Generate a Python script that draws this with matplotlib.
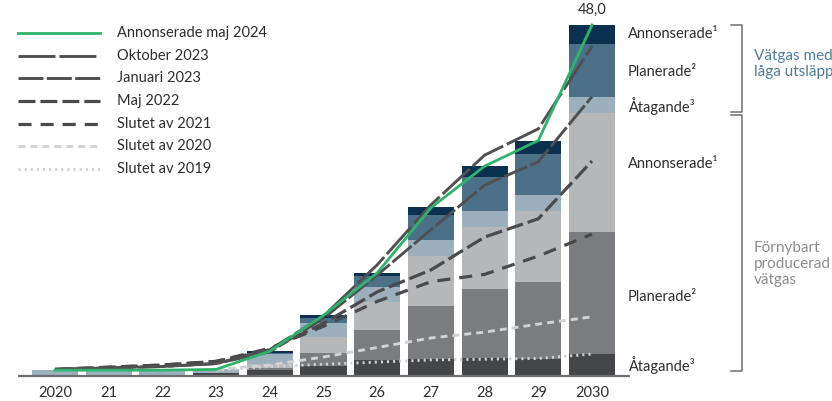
import matplotlib
matplotlib.use('Agg')
from matplotlib import pyplot as plt

plt.rcParams['font.family'] = ['Lato', 'DejaVu Sans']
plt.rcParams['lines.scale_dashes'] = False

years = [2020, 2021, 2022, 2023, 2024, 2025, 2026, 2027, 2028, 2029, 2030]
tick_labels = ['2020', '21', '22', '23', '24', '25', '26', '27', '28', '29', '2030']

# staplar (Mt), nedifrån och upp
fornybar_atagande = [0, 0, 0, 0.4, 0.8, 1.4, 2.2, 2.3, 2.5, 2.3, 3.0]
fornybar_planerade = [0, 0, 0, 0, 0.3, 1.8, 4.1, 7.25, 9.4, 10.5, 16.7]
fornybar_annonserade = [0, 0, 0, 0, 0.6, 2.2, 3.8, 6.8, 8.5, 9.7, 16.3]
lag_atagande = [0.8, 0.8, 0.8, 0.6, 1.3, 1.8, 2.05, 2.2, 2.2, 2.2, 2.2]
lag_planerade = [0, 0, 0, 0, 0.1, 0.8, 1.5, 3.4, 4.6, 5.6, 7.25]
lag_annonserade = [0, 0, 0, 0, 0.3, 0.3, 0.4, 1.1, 1.5, 1.9, 2.55]

# tidigare prognoser
maj2024 = [0.8, 0.8, 0.8, 0.9, 3.4, 8.3, 14.1, 23.0, 28.7, 32.2, 48.0]
okt2023 = [0.9, 1.1, 1.3, 1.7, 3.6, 8.2, 15.2, 23.4, 30.2, 33.8, 45.1]
jan2023 = [0.9, 1.1, 1.3, 1.7, 3.3, 7.9, 13.8, 20.0, 26.1, 29.3, 38.2]
maj2022 = [0.9, 1.2, 1.5, 2.0, 3.6, 7.2, 11.5, 14.5, 19.0, 21.5, 29.4]
slut2021 = [0.9, 1.2, 1.5, 2.0, 3.8, 6.8, 10.2, 12.9, 13.9, 16.4, 19.4]
years_sen = [2023, 2024, 2025, 2026, 2027, 2028, 2029, 2030]
slut2020 = [0.9, 1.5, 2.6, 3.9, 5.2, 6.0, 7.1, 8.1]
slut2019 = [0.8, 1.3, 1.6, 1.9, 2.2, 2.3, 2.4, 3.0]

stack = [
    (fornybar_atagande, '#45464a'),
    (fornybar_planerade, '#7b7c80'),
    (fornybar_annonserade, '#b6b7b9'),
    (lag_atagande, '#9bb0bc'),
    (lag_planerade, '#4b7088'),
    (lag_annonserade, '#0b3150'),
]

dark = '#4a4a4d'
light = '#d2d2d2'
series = [
    ('Annonserade maj 2024', years, maj2024, '#2fb36a', None, 2.0),
    ('Oktober 2023', years, okt2023, '#505053', (0, (26.6, 2.9)), 2.1),
    ('Januari 2023', years, jan2023, '#505053', (0, (18, 2.4)), 2.1),
    ('Maj 2022', years, maj2022, dark, (0, (12.2, 3.6)), 2.3),
    ('Slutet av 2021', years, slut2021, dark, (0, (9.4, 6.5)), 2.3),
    ('Slutet av 2020', years_sen, slut2020, light, (0, (5, 3.6)), 2.1),
    ('Slutet av 2019', years_sen, slut2019, light, (0, (1.5, 2.9)), 2.1),
]

fig = plt.figure(figsize=(8.32, 4.01), dpi=100)
ax = fig.add_axes([0, 0, 1, 1])
px = 53.7
ax.set_xlim(2020 - 55 / px, 2020 + (832 - 55) / px)
ax.set_ylim(-25 / 7.3125, 376 / 7.3125)
ax.axis('off')

bottom = [0] * len(years)
for vals, col in stack:
    ax.bar(years, vals, width=0.857, bottom=bottom, color=col, linewidth=0, zorder=2)
    bottom = [b + v for b, v in zip(bottom, vals)]

ax.plot([2019.31, 2030.71], [0, 0], color='#6e6e70', lw=1.6, zorder=3, solid_capstyle='butt')

for lab, xs, ys, col, ls, lw in reversed(series):
    kw = dict(color=col, lw=lw, zorder=4, solid_joinstyle='miter')
    if ls is not None:
        kw['linestyle'] = ls
    ax.plot(xs, ys, clip_on=False, **kw)

txtcol = '#2e2e30'

# legend
x0 = 2020 - (55 - 18) / px
x1 = 2020 - (55 - 100) / px
xt = 2020 - (55 - 117) / px
rows = [33, 56, 78, 101, 124, 146, 169]
for (lab, xs, ys, col, ls, lw), ry in zip(series, rows):
    yy = (376 - ry) / 7.3125
    kw = dict(color=col, lw=lw)
    if ls is not None:
        kw['linestyle'] = ls
    ax.plot([x0, x1], [yy, yy], **kw)
    ax.text(xt, yy, lab, fontsize=10.5, color=txtcol, va='center', ha='left')

for yr, lab in zip(years, tick_labels):
    ax.text(yr, -17 / 7.3125, lab, fontsize=10.5, color=txtcol, ha='center', va='center')

ax.text(2030, 50.0, '48,0', fontsize=10.5, color=txtcol, ha='center', va='center')

# etiketter till höger
lx = 2020 + (628 - 55) / px
for txt, ry in [('Annonserade¹', 34), ('Planerade²', 72), ('Åtagande³', 106),
                ('Annonserade¹', 164), ('Planerade²', 297), ('Åtagande³', 365)]:
    ax.text(lx, (376 - ry) / 7.3125, txt, fontsize=10.5, color=txtcol, va='center', ha='left')

bx = 2020 + (742 - 55) / px
bt = 2020 + (731 - 55) / px
for top, bot in [(25, 112), (115, 371)]:
    yt = (376 - top) / 7.3125
    yb = (376 - bot) / 7.3125
    ax.plot([bt, bx, bx, bt], [yt, yt, yb, yb], color='#6e6e70', lw=1.1, clip_on=False)

rx = 2020 + (754 - 55) / px
ax.text(rx, (376 - 64) / 7.3125, 'Vätgas med\nlåga utsläpp', fontsize=11, color='#4f7d98',
        va='center', ha='left', linespacing=1.15)
ax.text(rx, (376 - 264) / 7.3125, 'Förnybart\nproducerad\nvätgas', fontsize=11, color='#8c8c8e',
        va='center', ha='left', linespacing=1.15)

plt.savefig('out.png', dpi=100)
